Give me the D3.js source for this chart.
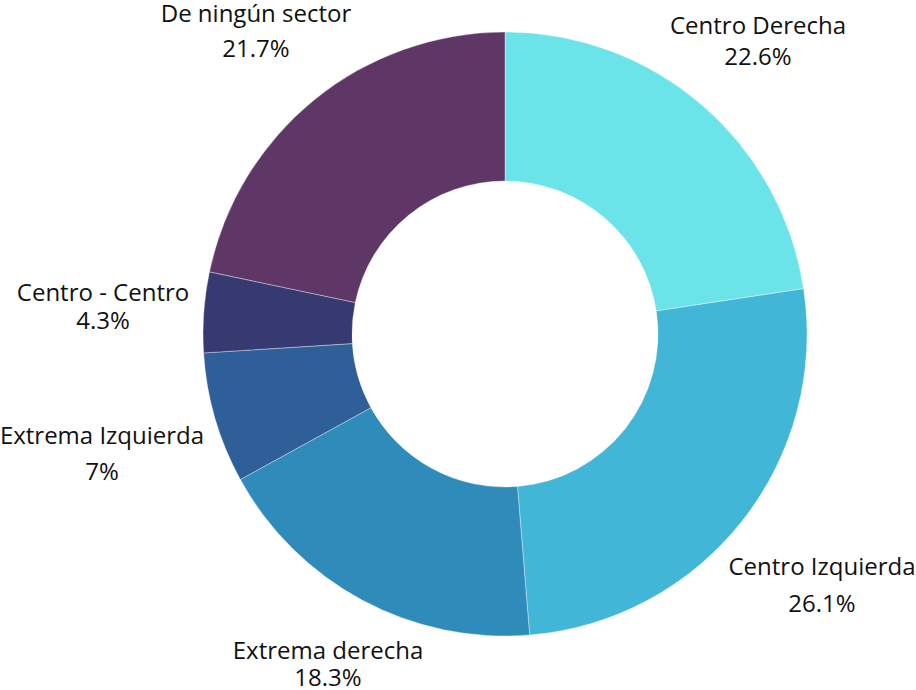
<!DOCTYPE html>
<html>
<head>
<meta charset="utf-8">
<script src="https://cdn.jsdelivr.net/npm/d3@7"></script>
<style>
  html, body { margin: 0; padding: 0; background: #fff; }
  svg { display: block; }
</style>
</head>
<body>
<svg id="chart" width="916" height="690"></svg>
<script>
// ---- data ----
const categories = ["Centro Derecha", "Centro Izquierda", "Extrema derecha", "Extrema Izquierda", "Centro - Centro", "De ningún sector"];
const values = [22.6, 26.1, 18.3, 7, 4.3, 21.7];
const valueLabels = ["22.6%", "26.1%", "18.3%", "7%", "4.3%", "21.7%"];
const colors = ["#6ae4e8", "#42b6d6", "#2e8bba", "#2e5f99", "#373a70", "#5e3766"];

// ---- layout (label anchors relative to the centre: first-line baseline, line gap) ----
const labelLayout = [
  { dx: 253, dy: -300, gap: 31 },
  { dx: 317, dy: 241, gap: 37 },
  { dx: -177, dy: 325, gap: 27 },
  { dx: -403, dy: 110, gap: 36 },
  { dx: -402, dy: -33, gap: 28 },
  { dx: -249, dy: -312, gap: 35 }
];

const width = 916, height = 690;
const cx = 505, cy = 334;
const outerR = 302, innerR = 153;

const svg = d3.select("#chart");
const g = svg.append("g").attr("transform", `translate(${cx},${cy})`);

const data = categories.map((c, i) => ({ name: c, value: values[i], label: valueLabels[i], color: colors[i], i }));

const pie = d3.pie().value(d => d.value).sort(null);
const arc = d3.arc().innerRadius(innerR).outerRadius(outerR);

g.selectAll("path.slice")
  .data(pie(data))
  .join("path")
  .attr("class", "slice")
  .attr("d", arc)
  .attr("fill", d => d.data.color)
  .attr("stroke", "rgba(255,255,255,0.6)")
  .attr("stroke-width", 0.6);

const labels = g.selectAll("g.label")
  .data(pie(data))
  .join("g")
  .attr("class", "label")
  .attr("transform", d => {
    const l = labelLayout[d.data.i];
    return `translate(${l.dx},${l.dy})`;
  });

labels.append("text")
  .attr("text-anchor", "middle")
  .attr("font-family", "'Open Sans', sans-serif")
  .attr("font-size", 24)
  .attr("fill", "#111")
  .text(d => d.data.name);

labels.append("text")
  .attr("text-anchor", "middle")
  .attr("y", d => labelLayout[d.data.i].gap)
  .attr("font-family", "'Open Sans', sans-serif")
  .attr("font-size", 24)
  .attr("fill", "#111")
  .text(d => d.data.label);
</script>
</body>
</html>
